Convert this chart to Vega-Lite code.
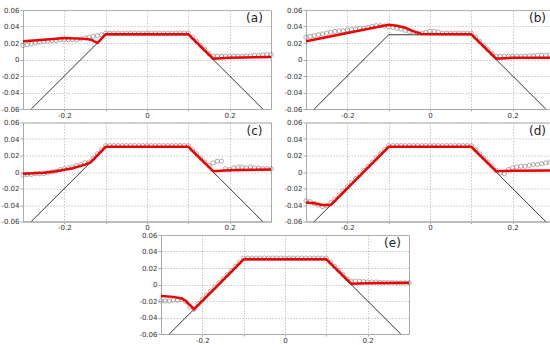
{
"$schema":"https://vega.github.io/schema/vega-lite/v6.json",
"padding":{"left":0,"top":5,"right":0,"bottom":0},
"config":{
 "view":{"stroke":"#aaa","strokeWidth":1},
 "axis":{"labelFont":"DejaVu Sans","labelFontSize":7,"labelColor":"#333","domainColor":"#aaa","tickColor":"#aaa","tickSize":3,"labelPadding":1,"gridColor":"#bbb","gridDash":[1.5,1.5],"gridWidth":0.8},
 "axisX":{"tickSize":2,"labelPadding":0}
},
"datasets":{
 "blk":[{"x":-0.28,"y":-0.06},{"x":-0.1,"y":0.03},{"x":0.1,"y":0.03},{"x":0.28,"y":-0.06}],
 "circ":[
  {"x":-0.30,"a":0.017,"b":0.027,"c":-0.004,"d":-0.035,"e":-0.020},
  {"x":-0.29,"a":0.018,"b":0.028,"c":-0.003,"d":-0.036,"e":-0.020},
  {"x":-0.28,"a":0.019,"b":0.029,"c":-0.003,"d":-0.038,"e":-0.020},
  {"x":-0.27,"a":0.020,"b":0.030,"c":-0.002,"d":-0.040,"e":-0.019},
  {"x":-0.26,"a":0.021,"b":0.031,"c":-0.002,"d":-0.042,"e":-0.019},
  {"x":-0.25,"a":0.022,"b":0.032,"c":-0.002,"d":-0.041,"e":-0.018},
  {"x":-0.24,"a":0.022,"b":0.033,"c":-0.001,"d":-0.037,"e":-0.021},
  {"x":-0.23,"a":0.023,"b":0.034,"c":0.000,"d":-0.033,"e":-0.027},
  {"x":-0.22,"a":0.023,"b":0.0345,"c":0.001,"d":-0.028,"e":-0.030},
  {"x":-0.21,"a":0.024,"b":0.035,"c":0.003,"d":-0.023,"e":-0.023},
  {"x":-0.20,"a":0.024,"b":0.036,"c":0.004,"d":-0.018,"e":-0.018},
  {"x":-0.19,"a":0.024,"b":0.0365,"c":0.005,"d":-0.013,"e":-0.013},
  {"x":-0.18,"a":0.024,"b":0.037,"c":0.006,"d":-0.008,"e":-0.008},
  {"x":-0.17,"a":0.024,"b":0.0375,"c":0.008,"d":-0.003,"e":-0.003},
  {"x":-0.16,"a":0.025,"b":0.038,"c":0.009,"d":0.002,"e":0.002},
  {"x":-0.15,"a":0.026,"b":0.039,"c":0.011,"d":0.007,"e":0.007},
  {"x":-0.14,"a":0.027,"b":0.040,"c":0.012,"d":0.012,"e":0.012},
  {"x":-0.13,"a":0.028,"b":0.041,"c":0.0165,"d":0.017,"e":0.017},
  {"x":-0.12,"a":0.029,"b":0.041,"c":0.022,"d":0.022,"e":0.022},
  {"x":-0.11,"a":0.030,"b":0.0405,"c":0.027,"d":0.027,"e":0.027},
  {"x":-0.10,"a":0.032,"b":0.040,"c":0.032,"d":0.032,"e":0.032},
  {"x":-0.09,"a":0.032,"b":0.039,"c":0.032,"d":0.032,"e":0.032},
  {"x":-0.08,"a":0.032,"b":0.038,"c":0.032,"d":0.032,"e":0.032},
  {"x":-0.07,"a":0.032,"b":0.037,"c":0.032,"d":0.032,"e":0.032},
  {"x":-0.06,"a":0.032,"b":0.0355,"c":0.032,"d":0.032,"e":0.032},
  {"x":-0.05,"a":0.032,"b":0.034,"c":0.032,"d":0.032,"e":0.032},
  {"x":-0.04,"a":0.032,"b":0.033,"c":0.032,"d":0.032,"e":0.032},
  {"x":-0.03,"a":0.032,"b":0.032,"c":0.032,"d":0.032,"e":0.032},
  {"x":-0.02,"a":0.032,"b":0.032,"c":0.032,"d":0.032,"e":0.032},
  {"x":-0.01,"a":0.032,"b":0.033,"c":0.032,"d":0.032,"e":0.032},
  {"x":0.00,"a":0.032,"b":0.034,"c":0.032,"d":0.032,"e":0.032},
  {"x":0.01,"a":0.032,"b":0.034,"c":0.032,"d":0.032,"e":0.032},
  {"x":0.02,"a":0.032,"b":0.033,"c":0.032,"d":0.032,"e":0.032},
  {"x":0.03,"a":0.032,"b":0.032,"c":0.032,"d":0.032,"e":0.032},
  {"x":0.04,"a":0.032,"b":0.032,"c":0.032,"d":0.032,"e":0.032},
  {"x":0.05,"a":0.032,"b":0.032,"c":0.032,"d":0.032,"e":0.032},
  {"x":0.06,"a":0.032,"b":0.032,"c":0.032,"d":0.032,"e":0.032},
  {"x":0.07,"a":0.032,"b":0.032,"c":0.032,"d":0.032,"e":0.032},
  {"x":0.08,"a":0.032,"b":0.032,"c":0.032,"d":0.032,"e":0.032},
  {"x":0.09,"a":0.032,"b":0.032,"c":0.032,"d":0.032,"e":0.032},
  {"x":0.10,"a":0.032,"b":0.032,"c":0.032,"d":0.032,"e":0.032},
  {"x":0.11,"a":0.027,"b":0.027,"c":0.027,"d":0.027,"e":0.027},
  {"x":0.12,"a":0.022,"b":0.022,"c":0.022,"d":0.022,"e":0.022},
  {"x":0.13,"a":0.017,"b":0.017,"c":0.017,"d":0.017,"e":0.017},
  {"x":0.14,"a":0.012,"b":0.012,"c":0.012,"d":0.012,"e":0.012},
  {"x":0.15,"a":0.007,"b":0.007,"c":0.008,"d":0.007,"e":0.007},
  {"x":0.16,"a":0.004,"b":0.004,"c":0.011,"d":0.002,"e":0.004},
  {"x":0.17,"a":0.004,"b":0.004,"c":0.013,"d":-0.001,"e":0.004},
  {"x":0.18,"a":0.004,"b":0.004,"c":0.013,"d":-0.002,"e":0.004},
  {"x":0.19,"a":0.004,"b":0.004,"c":0.004,"d":0.003,"e":0.0035},
  {"x":0.20,"a":0.004,"b":0.004,"c":0.003,"d":0.005,"e":0.003},
  {"x":0.21,"a":0.004,"b":0.004,"c":0.005,"d":0.006,"e":0.003},
  {"x":0.22,"a":0.004,"b":0.004,"c":0.006,"d":0.007,"e":0.003},
  {"x":0.23,"a":0.004,"b":0.004,"c":0.006,"d":0.007,"e":0.0025},
  {"x":0.24,"a":0.0045,"b":0.0045,"c":0.005,"d":0.008,"e":0.0025},
  {"x":0.25,"a":0.0045,"b":0.0045,"c":0.006,"d":0.009,"e":0.0025},
  {"x":0.26,"a":0.005,"b":0.005,"c":0.005,"d":0.009,"e":0.0025},
  {"x":0.27,"a":0.005,"b":0.005,"c":0.005,"d":0.010,"e":0.002},
  {"x":0.28,"a":0.0055,"b":0.005,"c":0.004,"d":0.011,"e":0.002},
  {"x":0.29,"a":0.006,"b":0.0055,"c":0.004,"d":0.012,"e":0.002},
  {"x":0.30,"a":0.006,"b":0.006,"c":0.004,"d":0.012,"e":0.002}
 ],
 "red":[
  {"p":"a","x":-0.3,"y":0.022},{"p":"a","x":-0.25,"y":0.024},{"p":"a","x":-0.2,"y":0.026},{"p":"a","x":-0.15,"y":0.025},{"p":"a","x":-0.135,"y":0.024},{"p":"a","x":-0.12,"y":0.020},{"p":"a","x":-0.1,"y":0.0305},{"p":"a","x":0.1,"y":0.0305},{"p":"a","x":0.16,"y":0.001},{"p":"a","x":0.2,"y":0.002},{"p":"a","x":0.3,"y":0.003},
  {"p":"b","x":-0.3,"y":0.022},{"p":"b","x":-0.2,"y":0.032},{"p":"b","x":-0.1,"y":0.042},{"p":"b","x":-0.08,"y":0.041},{"p":"b","x":-0.06,"y":0.0385},{"p":"b","x":-0.04,"y":0.034},{"p":"b","x":-0.02,"y":0.031},{"p":"b","x":0.1,"y":0.0305},{"p":"b","x":0.16,"y":0.001},{"p":"b","x":0.2,"y":0.002},{"p":"b","x":0.3,"y":0.002},
  {"p":"c","x":-0.3,"y":-0.002},{"p":"c","x":-0.25,"y":-0.001},{"p":"c","x":-0.22,"y":0.001},{"p":"c","x":-0.18,"y":0.0045},{"p":"c","x":-0.15,"y":0.009},{"p":"c","x":-0.136,"y":0.012},{"p":"c","x":-0.1,"y":0.0305},{"p":"c","x":0.1,"y":0.0305},{"p":"c","x":0.16,"y":0.001},{"p":"c","x":0.2,"y":0.002},{"p":"c","x":0.3,"y":0.003},
  {"p":"d","x":-0.3,"y":-0.037},{"p":"d","x":-0.28,"y":-0.038},{"p":"d","x":-0.26,"y":-0.040},{"p":"d","x":-0.24,"y":-0.040},{"p":"d","x":-0.1,"y":0.0305},{"p":"d","x":0.1,"y":0.0305},{"p":"d","x":0.16,"y":0.001},{"p":"d","x":0.2,"y":0.0015},{"p":"d","x":0.3,"y":0.002},
  {"p":"e","x":-0.3,"y":-0.014},{"p":"e","x":-0.27,"y":-0.015},{"p":"e","x":-0.25,"y":-0.017},{"p":"e","x":-0.24,"y":-0.020},{"p":"e","x":-0.22,"y":-0.030},{"p":"e","x":-0.1,"y":0.0305},{"p":"e","x":0.1,"y":0.0305},{"p":"e","x":0.16,"y":0.001},{"p":"e","x":0.2,"y":0.0015},{"p":"e","x":0.3,"y":0.002}
 ]
},
"spacing":-1.5,
"vconcat":[
 {"spacing":6,"hconcat":[
  {"width":248,"height":99,"layer":[
   {"data":{"name":"blk"},"mark":{"type":"line","color":"#000","strokeWidth":0.8},"encoding":{"x":{"field":"x","type":"quantitative","scale":{"domain":[-0.3,0.3],"nice":false},"axis":{"title":null,"values":[-0.2,-0.1,0,0.1,0.2],"format":"~g","labelExpr":"abs(datum.value)>0.05 && abs(datum.value)<0.15 ? '' : replace(datum.label,'\u2212','-')"}},"y":{"field":"y","type":"quantitative","scale":{"domain":[-0.06,0.06],"nice":false},"axis":{"title":null,"tickCount":6,"format":"~g","labelExpr":"replace(datum.label,'\u2212','-')"}}}},
   {"data":{"name":"circ"},"mark":{"type":"point","shape":"circle","filled":false,"color":"#707070","strokeWidth":0.8,"size":18},"encoding":{"x":{"field":"x","type":"quantitative","title":null},"y":{"field":"a","type":"quantitative","title":null}}},
   {"data":{"name":"red"},"transform":[{"filter":{"field":"p","equal":"a"}}],"mark":{"type":"line","color":"#f00000","strokeWidth":2.5},"encoding":{"x":{"field":"x","type":"quantitative","title":null},"y":{"field":"y","type":"quantitative","title":null}}},
   {"data":{"values":[{}]},"mark":{"type":"text","fontSize":12,"font":"DejaVu Sans","color":"#222"},"encoding":{"x":{"datum":0.26},"y":{"datum":0.05},"text":{"value":"(a)"}}}
  ]},
  {"width":248,"height":99,"layer":[
   {"data":{"name":"blk"},"mark":{"type":"line","color":"#000","strokeWidth":0.8},"encoding":{"x":{"field":"x","type":"quantitative","scale":{"domain":[-0.3,0.3],"nice":false},"axis":{"title":null,"values":[-0.2,-0.1,0,0.1,0.2],"format":"~g","labelExpr":"abs(datum.value)>0.05 && abs(datum.value)<0.15 ? '' : replace(datum.label,'\u2212','-')"}},"y":{"field":"y","type":"quantitative","scale":{"domain":[-0.06,0.06],"nice":false},"axis":{"title":null,"tickCount":6,"format":"~g","labelExpr":"replace(datum.label,'\u2212','-')"}}}},
   {"data":{"name":"circ"},"mark":{"type":"point","shape":"circle","filled":false,"color":"#707070","strokeWidth":0.8,"size":18},"encoding":{"x":{"field":"x","type":"quantitative","title":null},"y":{"field":"b","type":"quantitative","title":null}}},
   {"data":{"name":"red"},"transform":[{"filter":{"field":"p","equal":"b"}}],"mark":{"type":"line","color":"#f00000","strokeWidth":2.5},"encoding":{"x":{"field":"x","type":"quantitative","title":null},"y":{"field":"y","type":"quantitative","title":null}}},
   {"data":{"values":[{}]},"mark":{"type":"text","fontSize":12,"font":"DejaVu Sans","color":"#222"},"encoding":{"x":{"datum":0.26},"y":{"datum":0.05},"text":{"value":"(b)"}}}
  ]}
 ]},
 {"spacing":6,"hconcat":[
  {"width":248,"height":99,"layer":[
   {"data":{"name":"blk"},"mark":{"type":"line","color":"#000","strokeWidth":0.8},"encoding":{"x":{"field":"x","type":"quantitative","scale":{"domain":[-0.3,0.3],"nice":false},"axis":{"title":null,"values":[-0.2,-0.1,0,0.1,0.2],"format":"~g","labelExpr":"abs(datum.value)>0.05 && abs(datum.value)<0.15 ? '' : replace(datum.label,'\u2212','-')"}},"y":{"field":"y","type":"quantitative","scale":{"domain":[-0.06,0.06],"nice":false},"axis":{"title":null,"tickCount":6,"format":"~g","labelExpr":"replace(datum.label,'\u2212','-')"}}}},
   {"data":{"name":"circ"},"mark":{"type":"point","shape":"circle","filled":false,"color":"#707070","strokeWidth":0.8,"size":18},"encoding":{"x":{"field":"x","type":"quantitative","title":null},"y":{"field":"c","type":"quantitative","title":null}}},
   {"data":{"name":"red"},"transform":[{"filter":{"field":"p","equal":"c"}}],"mark":{"type":"line","color":"#f00000","strokeWidth":2.5},"encoding":{"x":{"field":"x","type":"quantitative","title":null},"y":{"field":"y","type":"quantitative","title":null}}},
   {"data":{"values":[{}]},"mark":{"type":"text","fontSize":12,"font":"DejaVu Sans","color":"#222"},"encoding":{"x":{"datum":0.26},"y":{"datum":0.05},"text":{"value":"(c)"}}}
  ]},
  {"width":248,"height":99,"layer":[
   {"data":{"name":"blk"},"mark":{"type":"line","color":"#000","strokeWidth":0.8},"encoding":{"x":{"field":"x","type":"quantitative","scale":{"domain":[-0.3,0.3],"nice":false},"axis":{"title":null,"values":[-0.2,-0.1,0,0.1,0.2],"format":"~g","labelExpr":"abs(datum.value)>0.05 && abs(datum.value)<0.15 ? '' : replace(datum.label,'\u2212','-')"}},"y":{"field":"y","type":"quantitative","scale":{"domain":[-0.06,0.06],"nice":false},"axis":{"title":null,"tickCount":6,"format":"~g","labelExpr":"replace(datum.label,'\u2212','-')"}}}},
   {"data":{"name":"circ"},"mark":{"type":"point","shape":"circle","filled":false,"color":"#707070","strokeWidth":0.8,"size":18},"encoding":{"x":{"field":"x","type":"quantitative","title":null},"y":{"field":"d","type":"quantitative","title":null}}},
   {"data":{"name":"red"},"transform":[{"filter":{"field":"p","equal":"d"}}],"mark":{"type":"line","color":"#f00000","strokeWidth":2.5},"encoding":{"x":{"field":"x","type":"quantitative","title":null},"y":{"field":"y","type":"quantitative","title":null}}},
   {"data":{"values":[{}]},"mark":{"type":"text","fontSize":12,"font":"DejaVu Sans","color":"#222"},"encoding":{"x":{"datum":0.26},"y":{"datum":0.05},"text":{"value":"(d)"}}}
  ]}
 ]},
 {"spacing":0,"hconcat":[
  {"width":115,"height":99,"data":{"values":[]},"mark":"point","encoding":{},"view":{"stroke":null}},
  {"width":248,"height":99,"layer":[
   {"data":{"name":"blk"},"mark":{"type":"line","color":"#000","strokeWidth":0.8},"encoding":{"x":{"field":"x","type":"quantitative","scale":{"domain":[-0.3,0.3],"nice":false},"axis":{"title":null,"values":[-0.2,-0.1,0,0.1,0.2],"format":"~g","labelExpr":"abs(datum.value)>0.05 && abs(datum.value)<0.15 ? '' : replace(datum.label,'\u2212','-')"}},"y":{"field":"y","type":"quantitative","scale":{"domain":[-0.06,0.06],"nice":false},"axis":{"title":null,"tickCount":6,"format":"~g","labelExpr":"replace(datum.label,'\u2212','-')"}}}},
   {"data":{"name":"circ"},"mark":{"type":"point","shape":"circle","filled":false,"color":"#707070","strokeWidth":0.8,"size":18},"encoding":{"x":{"field":"x","type":"quantitative","title":null},"y":{"field":"e","type":"quantitative","title":null}}},
   {"data":{"name":"red"},"transform":[{"filter":{"field":"p","equal":"e"}}],"mark":{"type":"line","color":"#f00000","strokeWidth":2.5},"encoding":{"x":{"field":"x","type":"quantitative","title":null},"y":{"field":"y","type":"quantitative","title":null}}},
   {"data":{"values":[{}]},"mark":{"type":"text","fontSize":12,"font":"DejaVu Sans","color":"#222"},"encoding":{"x":{"datum":0.26},"y":{"datum":0.05},"text":{"value":"(e)"}}}
  ]}
 ]}
]
}
